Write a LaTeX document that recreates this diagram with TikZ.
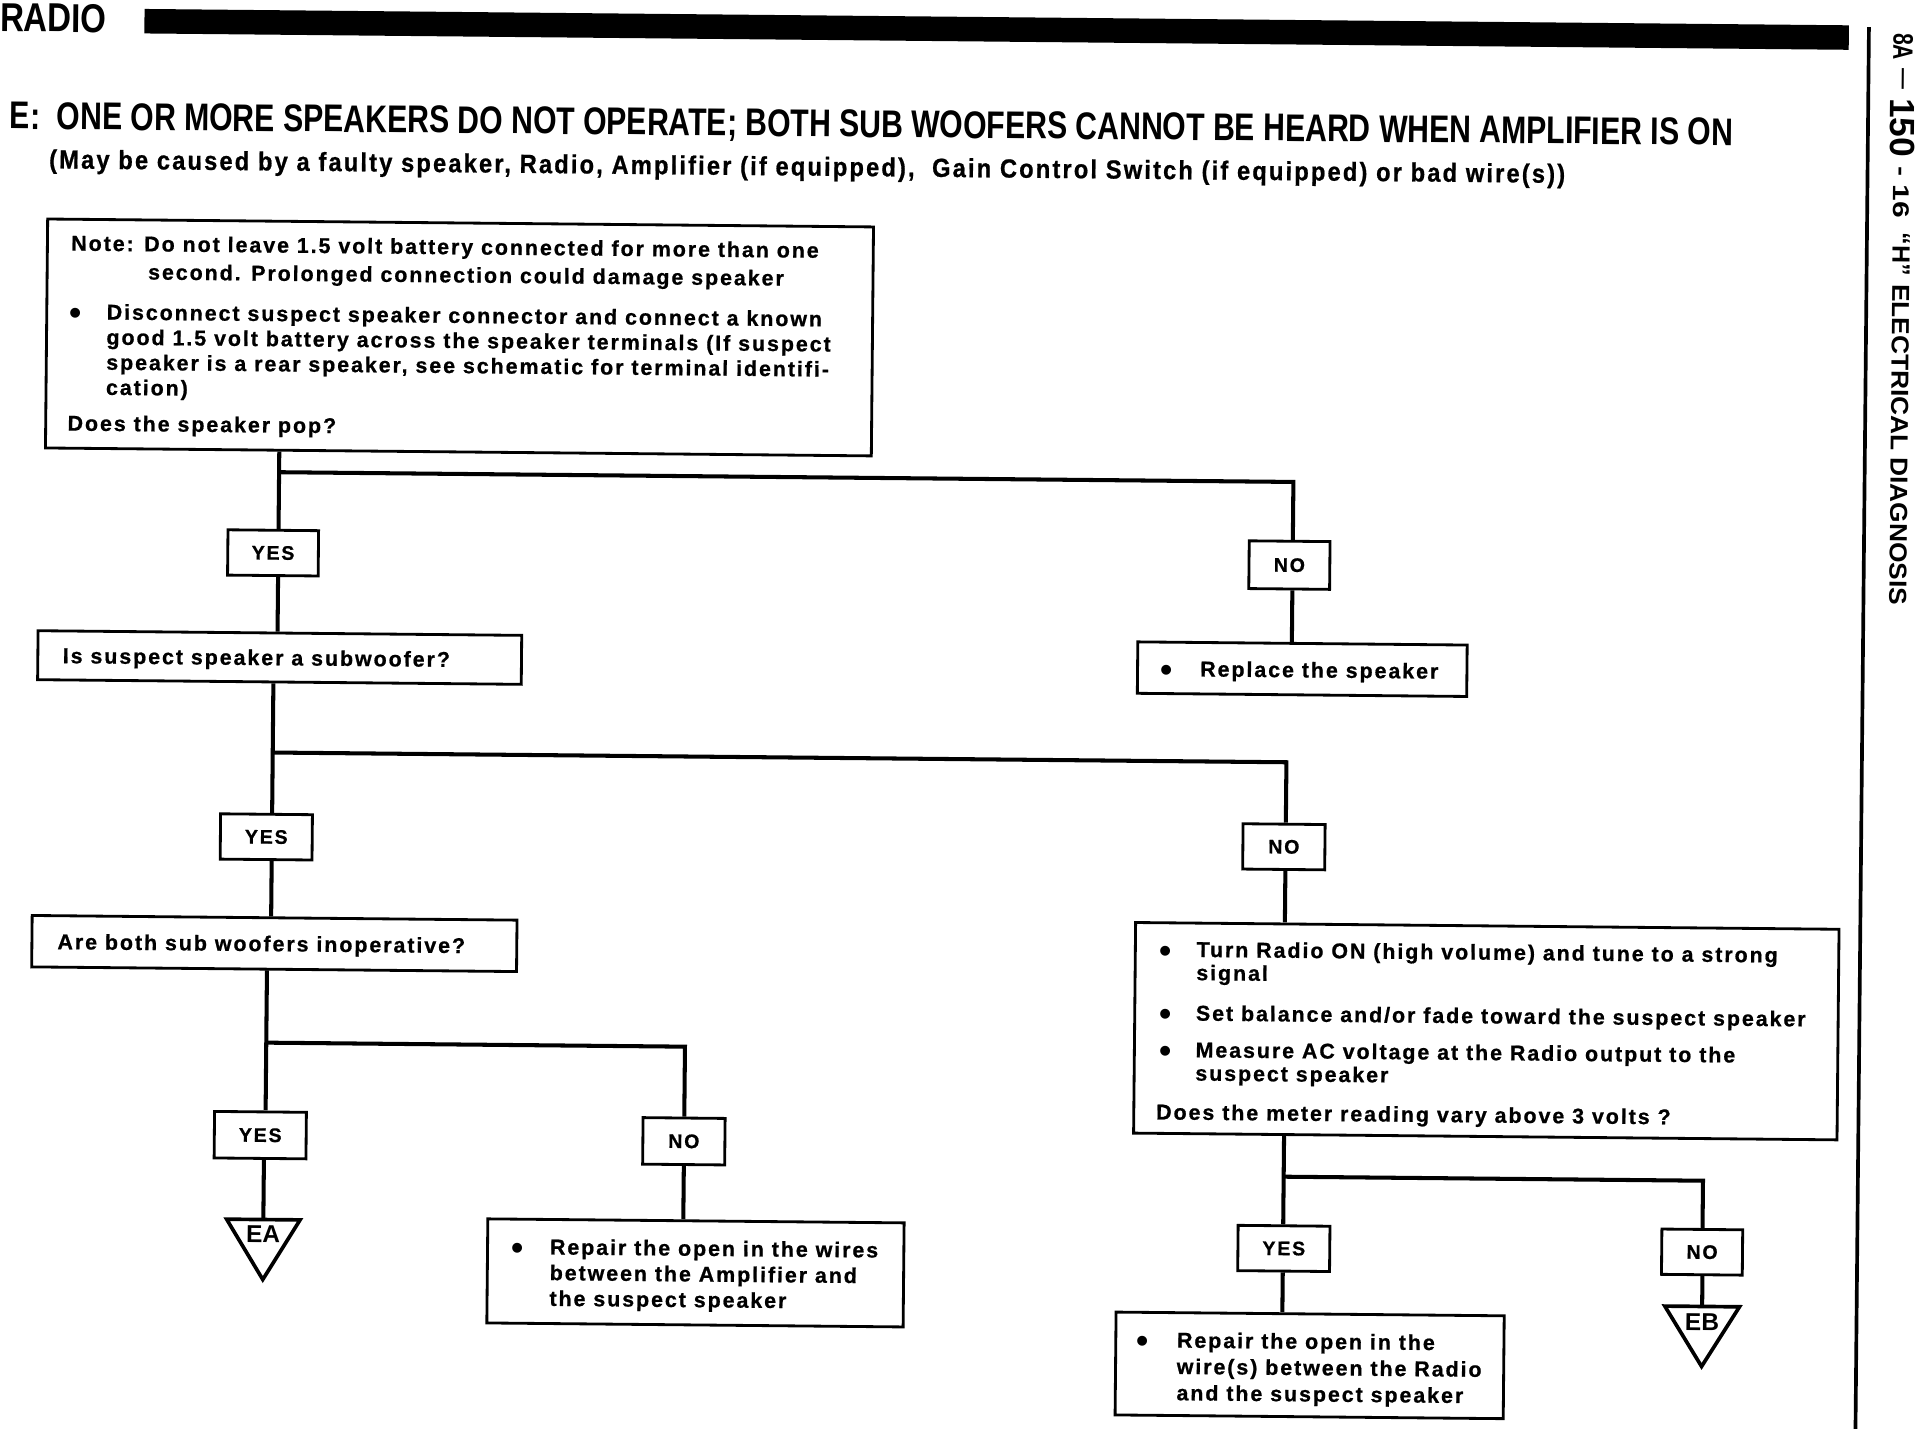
\documentclass[tikz,border=0pt]{standalone}
\usepackage{fontspec}
\usepackage{graphicx}
\setmainfont{Liberation Sans}
\newfontfamily\bodyfont{Liberation Sans}[LetterSpace=9,FakeBold=0.8]
\begin{document}
\begin{tikzpicture}[x=1pt,y=-1pt,
  boxst/.style={draw,line width=2.3pt,inner sep=0pt},
  yn/.style={boxst,minimum height=37pt,font=\bodyfont\bfseries\fontsize{16}{16}\selectfont},
  conn/.style={line width=3.3pt},
  txt/.style={anchor=north west,inner sep=0pt,align=left,font=\bodyfont\bfseries\fontsize{17.5}{20.5}\selectfont},
  bulst/.style={anchor=base,inner sep=0pt,font=\bfseries\fontsize{28}{28}\selectfont},
  tri/.style={line width=3pt,line join=miter},
  trilbl/.style={inner sep=0pt,font=\bfseries\fontsize{20}{20}\selectfont},
  vt/.style={anchor=base west,inner sep=0pt,rotate=-90,font=\bfseries\fontsize{20}{20}\selectfont}
]
\useasboundingbox (0,0) rectangle (1568,1176);
\fill[white] (0,0) rectangle (1568,1176);
\begin{scope}[rotate around={-0.55:(784,588)},transform shape]
% header
\node[anchor=base west,inner sep=0pt] (radio) at (-5.5,33.2) {\resizebox{87pt}{23pt}{\bfseries RADIO}};
\fill (112.5,13.7) rectangle (1504.5,33.7);
\coordinate (mtop) at (1521,15);
\coordinate (mbot) at (1521,1160);
\draw[line width=3pt] (mtop) -- (mbot);
\node[vt] (vt1) at (1541,19.6) {\resizebox{22pt}{16pt}{8A}};
\node[vt] (vt2) at (1544.4,48.6) {\resizebox{17pt}{!}{—}};
\node[vt] (vt3) at (1539,72.6) {\resizebox{48pt}{20pt}{150}};
\node[vt] (vt4) at (1542.5,128.6) {\resizebox{42pt}{13pt}{- 16}};
\node[vt] (vt5) at (1542,182.6) {\resizebox{35pt}{14pt}{“H”}};
\node[vt] (vt6) at (1542,224.6) {\resizebox{262pt}{14pt}{ELECTRICAL DIAGNOSIS}};
% titles
\node[anchor=base west,inner sep=0pt] (title) at (3.3,112.7) {\raisebox{0pt}[\height][0pt]{\resizebox{1407pt}{22pt}{\bfseries E:\ \ ONE OR MORE SPEAKERS DO NOT OPERATE; BOTH SUB WOOFERS CANNOT BE HEARD WHEN AMPLIFIER IS ON}}};
\node[anchor=base west,inner sep=0pt] (subtitle) at (35.6,144.6) {\resizebox{1238pt}{15.5pt}{\bodyfont\bfseries (May be caused by a faulty speaker, Radio, Amplifier (if equipped),\ \ Gain Control Switch (if equipped) or bad wire(s))}};
% boxes
\node[boxst,minimum width=674.5pt,minimum height=187pt] (note) at (372.25,279.5) {};
\node[txt,font=\bodyfont\bfseries\fontsize{17.5}{23}\selectfont] (noteA) at (54.3,198.75) {Note: Do not leave 1.5 volt battery connected for more than one\\\hspace*{63pt}second. Prolonged connection could damage speaker};
\node[bulst] (noteBb) at (58.8,272.2) {\textbullet};
\node[txt] (noteB) at (83.8,254.75) {Disconnect suspect speaker connector and connect a known\\good 1.5 volt battery across the speaker terminals (If suspect\\speaker is a rear speaker, see schematic for terminal identifi-\\cation)};
\node[txt] (noteC) at (52.7,345.75) {Does the speaker pop?};

\node[yn,minimum width=74pt] (yes1) at (221.7,456.9) {YES};
\node[yn,minimum width=66pt,minimum height=39pt] (no1) at (1051.8,458.9) {NO};

\node[boxst,minimum width=395pt,minimum height=40pt] (issub) at (227.9,542.3) {};
\node[txt] (issubT) at (50.6,535.75) {Is suspect speaker a subwoofer?};

\node[boxst,minimum width=269pt,minimum height=42pt] (replace) at (1063.1,543.8) {};
\node[bulst] (replaceb) at (952.6,555.1) {\textbullet};
\node[txt] (replaceT) at (979.6,537.65) {Replace the speaker};

\node[yn,minimum width=75pt] (yes2) at (218.4,688.9) {YES};
\node[yn,minimum width=67pt] (no2) at (1049.5,689) {NO};

\node[boxst,minimum width=396pt,minimum height=42pt] (areboth) at (225.8,775.9) {};
\node[txt] (arebothT) at (48.5,769.35) {Are both sub woofers inoperative?};

\node[boxst,minimum width=574.5pt,minimum height=172pt] (bullets) at (1216.25,838) {};
\node[bulst] (bul1b) at (953.8,784.2) {\textbullet};
\node[txt,font=\bodyfont\bfseries\fontsize{17.5}{19}\selectfont] (bul1) at (978.8,766.75) {Turn Radio ON (high volume) and tune to a strong\\signal};
\node[bulst] (bul2b) at (954.2,836.2) {\textbullet};
\node[txt] (bul2) at (978.8,818.75) {Set balance and/or fade toward the suspect speaker};
\node[bulst] (bul3b) at (954.5,866.2) {\textbullet};
\node[txt,font=\bodyfont\bfseries\fontsize{17.5}{19}\selectfont] (bul3) at (978.8,848.75) {Measure AC voltage at the Radio output to the\\suspect speaker};
\node[txt] (bul4) at (947.1,899.75) {Does the meter reading vary above 3 volts ?};

\node[yn,minimum width=75pt,minimum height=38pt] (yes3) at (215.8,932.5) {YES};
\node[yn,minimum width=67pt,minimum height=38pt] (no3) at (561.8,934.2) {NO};

\coordinate (eaT) at (219,1001.5);
\draw[tri] (eaT) ++(-30,0) -- ++(60,0) -- ++(-30,49) -- cycle;
\node[trilbl] (ea) at (219,1013.5) {EA};

\node[boxst,minimum width=340pt,minimum height=85pt] (repairL) at (572.3,1041.6) {};
\node[bulst] (repairLb) at (427.1,1032.2) {\textbullet};
\node[txt,font=\bodyfont\bfseries\fontsize{17.5}{21}\selectfont] (repairLT) at (453.1,1014.75) {Repair the open in the wires\\between the Amplifier and\\the suspect speaker};

\node[yn,minimum width=75pt] (yes4) at (1052.6,1017) {YES};
\node[yn,minimum width=66pt] (no4) at (1394.2,1016.7) {NO};

\coordinate (ebT) at (1394.8,1061.2);
\draw[tri] (ebT) ++(-30.5,0) -- ++(61,0) -- ++(-30.5,49) -- cycle;
\node[trilbl] (eb) at (1394.7,1074) {EB};

\node[boxst,minimum width=317pt,minimum height=84pt] (repairR) at (1074.6,1112.3) {};
\node[bulst] (repairRb) at (937.9,1103.4) {\textbullet};
\node[txt,font=\bodyfont\bfseries\fontsize{17.5}{21.5}\selectfont] (repairRT) at (965.9,1085.95) {Repair the open in the\\wire(s) between the Radio\\and the suspect speaker};

% connectors
\coordinate (jA) at (226,391);
\coordinate (cR1) at (1054.5,0);
\draw[conn] (note.south -| jA) -- (yes1.north -| jA);
\draw[conn] (jA) -| (no1.north -| cR1);
\draw[conn] (yes1.south -| jA) -- (issub.north -| jA);
\draw[conn] (no1.south -| cR1) -- (replace.north -| cR1);

\coordinate (jB) at (223,620);
\coordinate (cR2) at (1051,0);
\draw[conn] (issub.south -| jB) -- (yes2.north -| jB);
\draw[conn] (jB) -| (no2.north -| cR2);
\draw[conn] (yes2.south -| jB) -- (areboth.north -| jB);
\draw[conn] (no2.south -| cR2) -- (bullets.north -| cR2);

\coordinate (jC) at (220,857);
\coordinate (cM3) at (562,0);
\draw[conn] (areboth.south -| jC) -- (yes3.north -| jC);
\draw[conn] (jC) -| (no3.north -| cM3);
\draw[conn] (yes3.south -| eaT) -- (eaT);
\draw[conn] (no3.south -| cM3) -- (repairL.north -| cM3);

\coordinate (jD) at (1052,958.5);
\coordinate (cR5) at (1394.5,0);
\draw[conn] (bullets.south -| jD) -- (yes4.north -| jD);
\draw[conn] (jD) -| (no4.north -| cR5);
\draw[conn] (yes4.south -| jD) -- (repairR.north -| jD);
\draw[conn] (no4.south -| ebT) -- (ebT);
\end{scope}
\end{tikzpicture}
\end{document}
